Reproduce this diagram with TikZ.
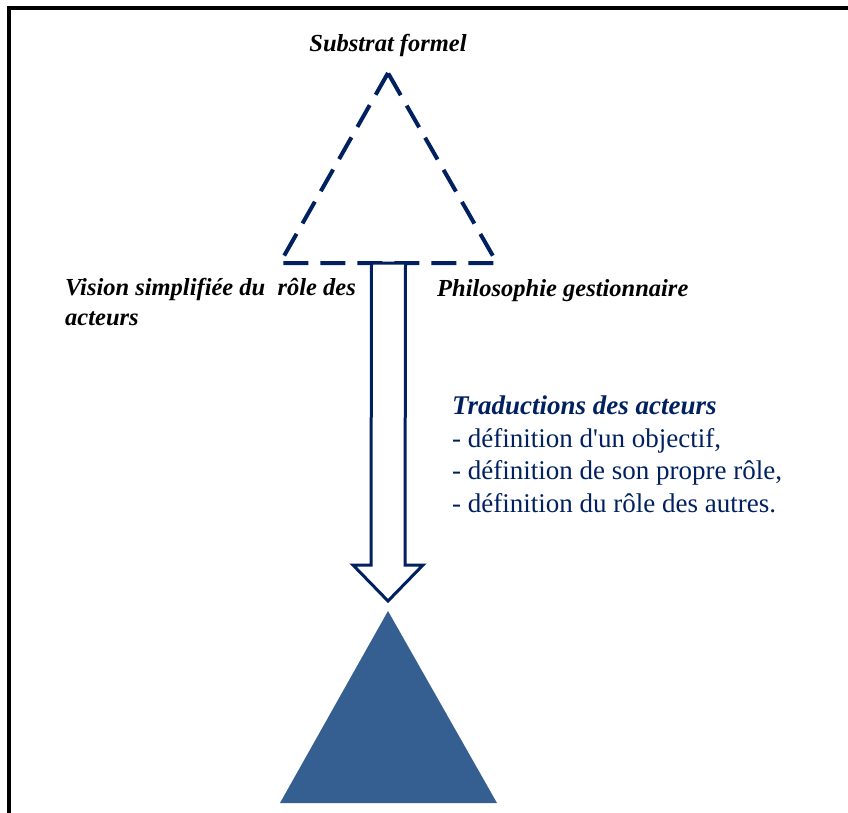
\documentclass[tikz,border=0pt]{standalone}
\usepackage{fontspec}
\setmainfont{Liberation Serif}
\usetikzlibrary{calc,positioning}
\definecolor{navy}{HTML}{002060}
\definecolor{steel}{HTML}{365F91}

\begin{document}
\begin{tikzpicture}[x=1pt,y=-1pt,line join=miter,
    lbl/.style={font=\fontsize{24.5}{30}\selectfont\bfseries\itshape,align=left,inner sep=0pt},
    trad/.style={font=\fontsize{27}{32.5}\selectfont,text=navy,align=left,inner sep=0pt},
    dashtri/.style={draw=navy,line width=4pt,dash pattern=on 25pt off 12pt},
    fulltri/.style={fill=steel},
    blockarrow/.style={draw=navy,line width=3pt,fill=white}]
    \useasboundingbox (0,0) rectangle (848,812);
    \draw[line width=4pt] (9,840) -- (9,8) -- (870,8);

    % triangles
    \coordinate (s1) at (388,73);
    \coordinate (s2) at (280,263);
    \coordinate (s3) at (497,263);
    \coordinate (t1) at (388,611);
    \coordinate (t2) at (280,803);
    \coordinate (t3) at (497,803);
    \draw[dashtri] (s1) -- (s2) -- (s3) -- cycle;
    \fill[fulltri] (t1) -- (t2) -- (t3) -- cycle;

    % block arrow between the two
    \coordinate (from) at ($(s2)!0.5!(s3)$);
    \coordinate (to) at ($(t1)+(0,-10)$);
    \draw[blockarrow] ($(from)+(-17,0)$) -- ($(to)+(-17,-36)$) -- ($(to)+(-35,-36)$) -- (to)
        -- ($(to)+(35,-36)$) -- ($(to)+(17,-36)$) -- ($(from)+(17,0)$) -- cycle;

    \node[lbl,anchor=base] (sub) at (388,51) {Substrat formel};
    \node[lbl,anchor=base west] (vis) at (65,325) {Vision simplifiée du\ \ rôle des\\acteurs};
    \node[lbl,anchor=base west] (phi) at (437,296) {Philosophie gestionnaire};
    \node[trad,anchor=base west] (trd) at (452,512)
        {{\bfseries\itshape Traductions des acteurs}\\
         - définition d\textquotesingle un objectif,\\
         - définition de son propre rôle,\\
         - définition du rôle des autres.};
\end{tikzpicture}
\end{document}
